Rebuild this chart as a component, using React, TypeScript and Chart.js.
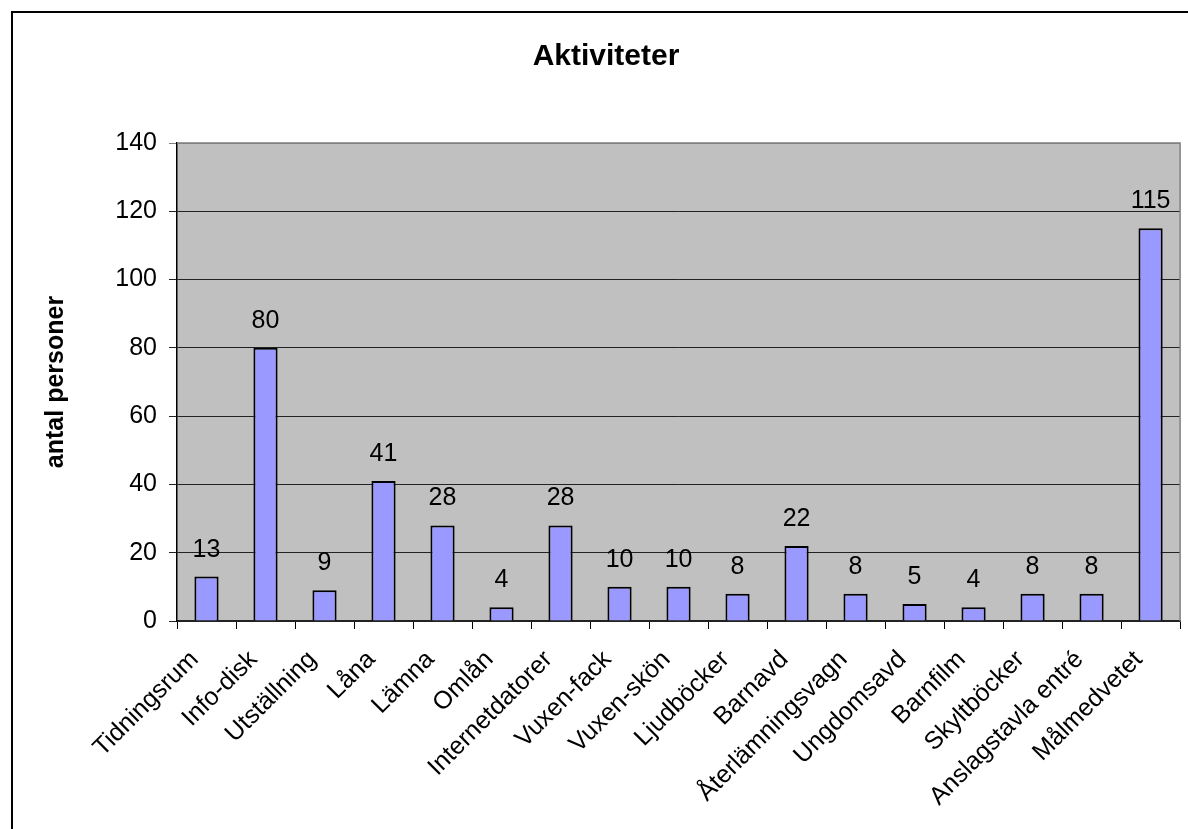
import React, { useEffect, useRef } from "react";
import { Chart, registerables } from "chart.js";

Chart.register(...registerables);

const categories = [
  "Tidningsrum",
  "Info-disk",
  "Utställning",
  "Låna",
  "Lämna",
  "Omlån",
  "Internetdatorer",
  "Vuxen-fack",
  "Vuxen-skön",
  "Ljudböcker",
  "Barnavd",
  "Återlämningsvagn",
  "Ungdomsavd",
  "Barnfilm",
  "Skyltböcker",
  "Anslagstavla entré",
  "Målmedvetet",
];
const values = [13, 80, 9, 41, 28, 4, 28, 10, 10, 8, 22, 8, 5, 4, 8, 8, 115];
const chartTitle = "Aktiviteter";
const yAxisTitle = "antal personer";
const yMin = 0;
const yMax = 140;
const yStep = 20;

const FONT = "'Liberation Sans', Arial, Helvetica, sans-serif";

const decorPlugin = {
  id: "decor",
  beforeDraw(chart: any) {
    const { ctx, chartArea } = chart;
    ctx.save();
    ctx.fillStyle = "#ffffff";
    ctx.fillRect(0, 0, chart.width, chart.height);
    // outer frame
    ctx.strokeStyle = "#000000";
    ctx.lineWidth = 2;
    ctx.strokeRect(12, 12, 2000, 2000);
    // plot background
    ctx.fillStyle = "#C0C0C0";
    ctx.fillRect(
      chartArea.left,
      chartArea.top,
      chartArea.right - chartArea.left,
      chartArea.bottom - chartArea.top
    );
    // title
    ctx.fillStyle = "#000000";
    ctx.font = `bold 30px ${FONT}`;
    ctx.textAlign = "center";
    ctx.textBaseline = "alphabetic";
    ctx.fillText(chartTitle, 606, 65);
    ctx.restore();
  },
  afterDatasetsDraw(chart: any) {
    const { ctx, chartArea } = chart;
    ctx.save();
    // plot area gray frame (top & right)
    ctx.strokeStyle = "#808080";
    ctx.lineWidth = 1.5;
    ctx.beginPath();
    ctx.moveTo(chartArea.left, chartArea.top);
    ctx.lineTo(chartArea.right, chartArea.top);
    ctx.lineTo(chartArea.right, chartArea.bottom);
    ctx.stroke();
    // data labels
    const meta = chart.getDatasetMeta(0);
    ctx.fillStyle = "#000000";
    ctx.font = `25px ${FONT}`;
    ctx.textAlign = "center";
    ctx.textBaseline = "alphabetic";
    meta.data.forEach((el: any, i: number) => {
      ctx.fillText(String(values[i]), el.x, el.y - 20);
    });
    ctx.restore();
  },
};

export default function App() {
  const ref = useRef<HTMLCanvasElement | null>(null);
  useEffect(() => {
    if (!ref.current) return;
    const chart = new Chart(ref.current, {
      type: "bar",
      data: {
        labels: categories,
        datasets: [
          {
            data: values,
            backgroundColor: "#9999FF",
            borderColor: "#000000",
            borderWidth: 2,
            barPercentage: 0.41,
            categoryPercentage: 1,
          },
        ],
      },
      options: {
        animation: false,
        responsive: false,
        devicePixelRatio: 1,
        layout: { padding: { top: 143, right: 7, left: 0, bottom: 0 } },
        plugins: {
          legend: { display: false },
          title: { display: false },
          tooltip: { enabled: false },
        },
        scales: {
          x: {
            afterFit: (scale: any) => {
              scale.height = 208;
            },
            grid: {
              display: true,
              drawOnChartArea: false,
              drawTicks: true,
              tickLength: 8,
              color: "#000000",
              offset: true,
            },
            border: { display: true, color: "#222222", width: 1.5 },
            ticks: {
              autoSkip: false,
              minRotation: 45,
              maxRotation: 45,
              padding: 16,
              labelOffset: -12,
              color: "#000000",
              font: { family: FONT, size: 25 },
            },
          },
          y: {
            min: yMin,
            max: yMax,
            afterFit: (scale: any) => {
              scale.width = 177;
            },
            grid: {
              color: (c: any) => (c.tick && c.tick.value === yMax ? "#808080" : "#222222"),
              lineWidth: 1,
              tickLength: 8,
            },
            border: { display: true, color: "#000000", width: 1.5 },
            ticks: {
              stepSize: yStep,
              padding: 12,
              color: "#000000",
              font: { family: FONT, size: 25 },
            },
            title: {
              display: true,
              text: yAxisTitle,
              color: "#000000",
              font: { family: FONT, size: 25, weight: "bold" },
              padding: { top: 41, bottom: 0 },
            },
          },
        },
      },
      plugins: [decorPlugin],
    });
    return () => chart.destroy();
  }, []);
  return (
    <div
      style={{
        position: "fixed",
        left: 0,
        top: 0,
        width: 1188,
        height: 829,
        overflow: "hidden",
        background: "#fff",
      }}
    >
      <canvas ref={ref} width={1188} height={829} style={{ display: "block", width: 1188, height: 829 }} />
    </div>
  );
}
